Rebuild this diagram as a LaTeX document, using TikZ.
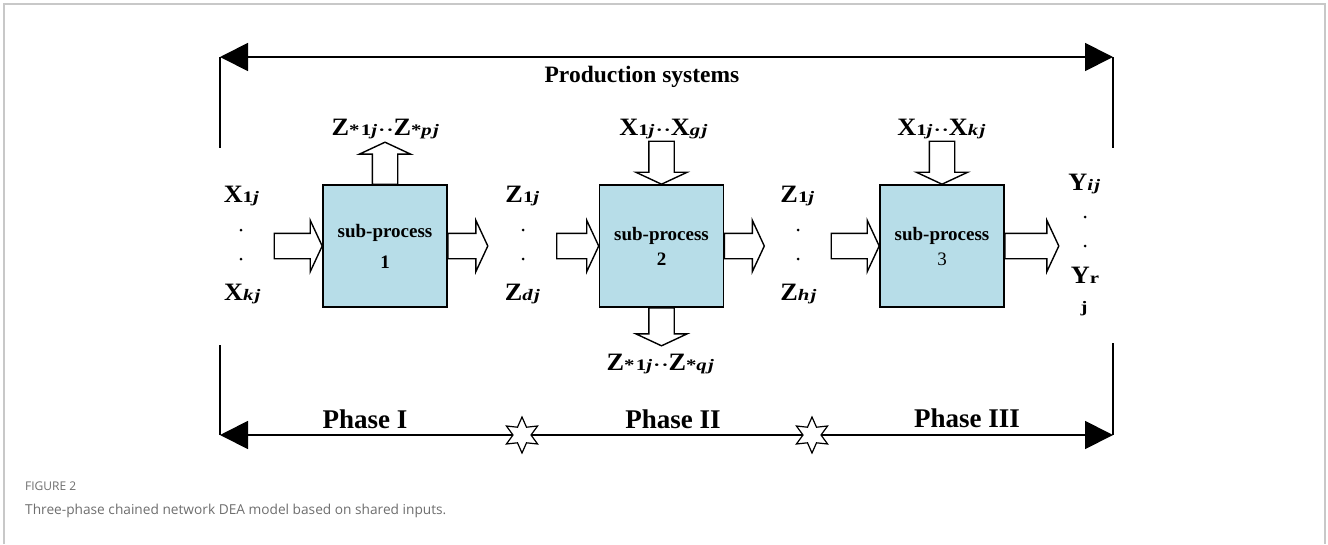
\documentclass[tikz,border=0pt]{standalone}
\usepackage{fontspec}
\setmainfont{Liberation Serif}
\newfontfamily\capfont{Open Sans}
\newfontfamily\bigfont[FakeStretch=1.05]{Liberation Serif}
\newfontfamily\subfont[FakeStretch=1.3,LetterSpace=8]{Liberation Serif}
\definecolor{boxblue}{RGB}{183,221,232}
\definecolor{framegray}{RGB}{200,200,200}
\definecolor{capgray}{RGB}{110,110,110}
\usetikzlibrary{arrows.meta,positioning,shapes.geometric,shapes.arrows,calc}
\newcommand{\bigL}[1]{{\bigfont\fontsize{25}{28}\selectfont\bfseries #1}}
\newcommand{\smL}[1]{{\subfont\fontsize{16}{18}\selectfont\bfseries #1}}

\begin{document}
\begin{tikzpicture}[x=1pt,y=-1pt,
				box/.style={draw,line width=1.6pt,fill=boxblue,minimum width=124pt,minimum height=122pt,
					inner sep=0pt,align=center,font=\fontsize{19}{22}\selectfont},
				fat/.style={single arrow,draw,fill=white,line width=1.4pt,text height=12pt,text depth=12pt,
					single arrow head extend=13pt,single arrow tip angle=130,inner sep=0pt,outer sep=0pt},
				ln/.style={line width=1.8pt},
				bigarr/.style={ln,{Triangle[length=28pt,width=28pt]}-{Triangle[length=28pt,width=28pt]}},
				lbl/.style={anchor=base,inner sep=0pt},
				pt/.style={circle,fill,inner sep=0pt,minimum size=3pt},
				starnode/.style={star,star points=6,star point ratio=2,draw,fill=white,line width=1.2pt,
					minimum size=36pt,inner sep=0pt}]
				\useasboundingbox (0,0) rectangle (1328,544);
				\draw[framegray,line width=1.5pt] (4,544) -- (4,4) -- (1325,4) -- (1325,544);
				
				\coordinate (tl) at (220,57);
				\coordinate (tr) at (1113,57);
				\coordinate (tlb) at (220,148);
				\coordinate (trb) at (1113,148);
				\coordinate (bl) at (220,435);
				\coordinate (br) at (1113,435);
				\coordinate (blt) at (220,345);
				\coordinate (brt) at (1113,343);
				\draw[bigarr] (tl) -- (tr);
				\draw[ln] (tl) -- (tlb);
				\draw[ln] (tr) -- (trb);
				\draw[bigarr] (bl) -- (br);
				\draw[ln] (bl) -- (blt);
				\draw[ln] (br) -- (brt);
				\node[starnode] (s1) at (522,435){};
				\node[starnode] (s2) at (812,435){};
				
				\node[lbl,font=\fontsize{23.5}{26}\selectfont\bfseries] (ps) at (642,82){Production systems};
				\node[lbl,font=\fontsize{27}{30}\selectfont\bfseries] (ph1) at (365,428){Phase I};
				\node[lbl,font=\fontsize{27}{30}\selectfont\bfseries] (ph2) at (673,428){Phase II};
				\node[lbl,font=\fontsize{27}{30}\selectfont\bfseries] (ph3) at (967,427){Phase III};
				
				\node[box] (b1) at (385,246){\textbf{sub-process}\\[9pt]\textbf{1}};
				\node[box] (b2) at (661.5,246){\textbf{sub-process}\\[3pt]\textbf{2}};
				\node[box] (b3) at (942,246){\textbf{sub-process}\\[3pt]3};
				
				\node[fat,minimum height=48pt,anchor=tip] (in1) at (b1.west){};
				\node[fat,minimum height=40pt,anchor=tail] (out1) at (b1.east){};
				\node[fat,minimum height=42pt,anchor=tip] (in2) at (b2.west){};
				\node[fat,minimum height=40pt,anchor=tail] (out2) at (b2.east){};
				\node[fat,minimum height=48pt,anchor=tip] (in3) at (b3.west){};
				\node[fat,minimum height=54pt,anchor=tail] (out3) at (b3.east){};
				\node[fat,minimum height=42pt,rotate=90,anchor=tail] (up1) at (b1.north){};
				\node[fat,minimum height=43pt,rotate=-90,anchor=tip] (dn2) at (b2.north){};
				\node[fat,minimum height=38pt,rotate=-90,anchor=tail] (dz2) at (b2.south){};
				\node[fat,minimum height=43pt,rotate=-90,anchor=tip] (dn3) at (b3.north){};
				
				\node[lbl] (x1) at (242,202){\bigL{X}\smL{1\textit{j}}};
				\node[pt] (xa) at (241,230){};
				\node[pt] (xb) at (241,259){};
				\node[lbl] (xk) at (243,300){\bigL{X}\smL{\textit{kj}}};
				
				\node[lbl] (z1) at (523,202){\bigL{Z}\smL{1\textit{j}}};
				\node[pt] (za) at (523,230){};
				\node[pt] (zb) at (523,259){};
				\node[lbl] (zd) at (523,300){\bigL{Z}\smL{\textit{dj}}};
				
				\node[lbl] (w1) at (798,202){\bigL{Z}\smL{1\textit{j}}};
				\node[pt] (wa) at (798,230){};
				\node[pt] (wb) at (798,259){};
				\node[lbl] (wh) at (799,300){\bigL{Z}\smL{\textit{hj}}};
				
				\node[lbl] (y1) at (1085,190){\bigL{Y}\smL{\textit{ij}}};
				\node[pt] (ya) at (1085,217){};
				\node[pt] (yb) at (1085,246){};
				\node[lbl] (yr) at (1085,283){\bigL{Y}\smL{r}};
				\node[lbl] (yj) at (1084,312){\smL{j}};
				
				\node[lbl] (zp) at (386,135){\bigL{Z}\smL{*1\textit{j}··}\bigL{Z}\smL{*\textit{pj}}};
				\node[lbl] (xg) at (664,135){\bigL{X}\smL{1\textit{j}··}\bigL{X}\smL{\textit{gj}}};
				\node[lbl] (xkk) at (942,135){\bigL{X}\smL{1\textit{j}··}\bigL{X}\smL{\textit{kj}}};
				\node[lbl] (zq) at (661,370){\bigL{Z}\smL{*1\textit{j}··}\bigL{Z}\smL{*\textit{qj}}};
				
				\node[anchor=base west,inner sep=0pt,font=\capfont\fontsize{12}{14}\selectfont,text=capgray]
					(fig) at (25,490){FIGURE 2};
				\node[anchor=base west,inner sep=0pt,font=\capfont\fontsize{13.7}{16}\selectfont,text=capgray]
					(cap) at (25,514){Three-phase chained network DEA model based on shared inputs.};
			\end{tikzpicture}
\end{document}
